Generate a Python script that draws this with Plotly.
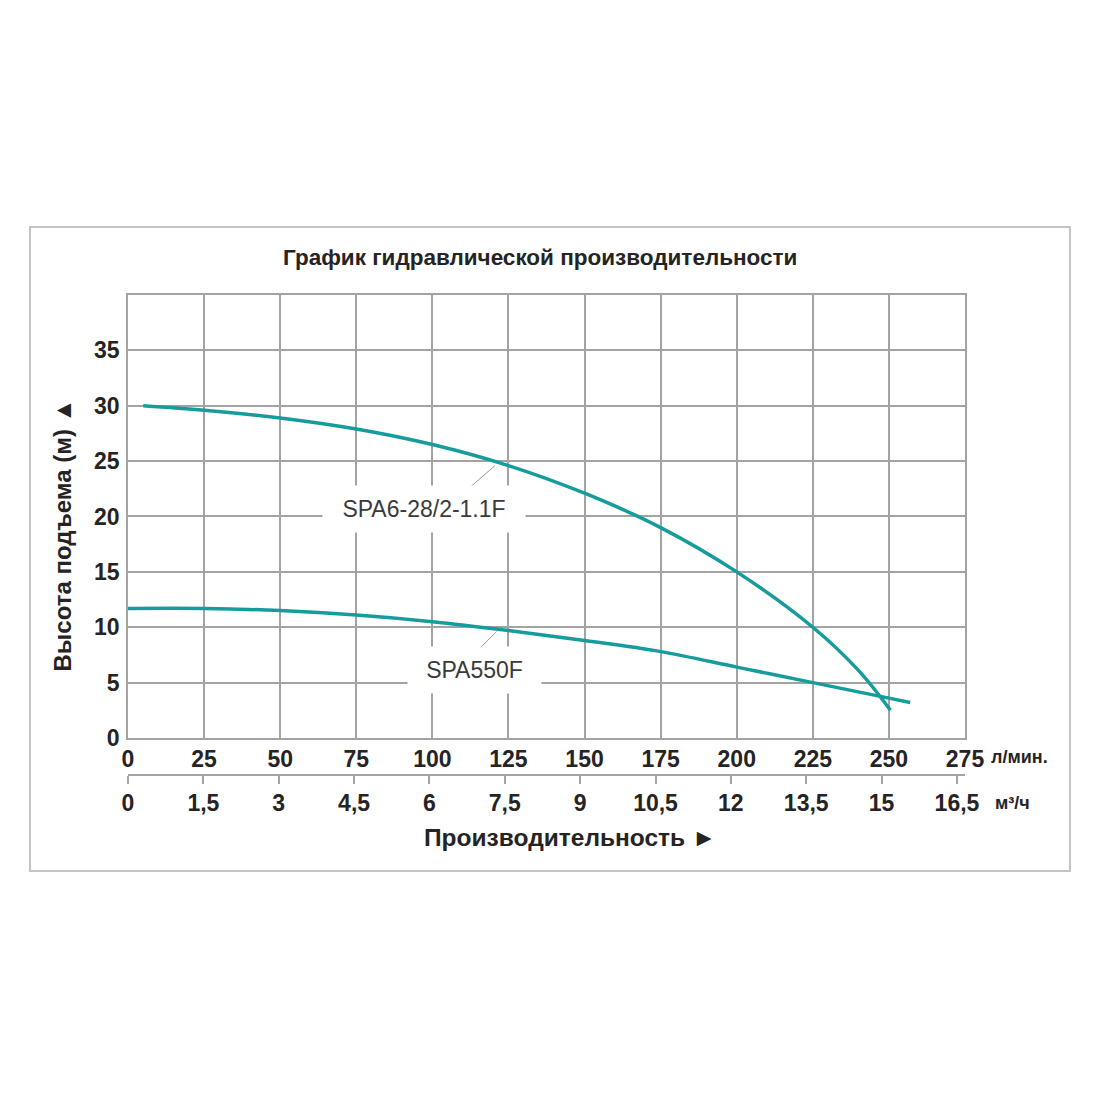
import plotly.graph_objects as go

# Performance curves (flow in l/min, head in m)
SPA6_Q = [5, 25, 50, 75, 100, 125, 150, 175, 200, 225, 240, 250.5]
SPA6_H = [30.0, 29.6, 28.9, 27.9, 26.5, 24.6, 22.1, 19.0, 15.0, 10.0, 6.1, 2.5]

SPA550_Q = [0, 25, 50, 75, 100, 125, 150, 175, 200, 225, 250, 257]
SPA550_H = [11.7, 11.7, 11.5, 11.1, 10.5, 9.7, 8.8, 7.8, 6.4, 5.0, 3.6, 3.2]

X_TICKS = list(range(0, 276, 25))
Y_TICKS = list(range(0, 36, 5))
M3_TICKS = [0, 1.5, 3, 4.5, 6, 7.5, 9, 10.5, 12, 13.5, 15, 16.5]
M3_LABELS = ["0", "1,5", "3", "4,5", "6", "7,5", "9", "10,5", "12", "13,5", "15", "16,5"]

TEAL = "#169c9c"
GRID = "#a3a3a3"
INK = "#262324"
FONT = "Liberation Sans"

fig = go.Figure()
fig.add_trace(go.Scatter(x=SPA6_Q, y=SPA6_H, mode="lines", line=dict(color=TEAL, width=3.5, shape="spline"),
                         name="SPA6-28/2-1.1F", hoverinfo="skip"))
fig.add_trace(go.Scatter(x=SPA550_Q, y=SPA550_H, mode="lines", line=dict(color=TEAL, width=3.5, shape="spline"),
                         name="SPA550F", hoverinfo="skip"))

tickfont = dict(family=FONT, size=23, color=INK, weight="bold")

fig.update_layout(
  width=1100, height=1100,
  margin=dict(l=120, r=143, t=287, b=208),
  paper_bgcolor="white", plot_bgcolor="white",
  showlegend=False,
  xaxis=dict(range=[0, 275], tickvals=X_TICKS, showgrid=True, gridcolor=GRID, gridwidth=1.5,
             showline=True, linecolor=GRID, linewidth=1.5, mirror=True, zeroline=False,
             ticks="", tickfont=tickfont, ticklabelstandoff=0),
  # lower axis in m3/h is slightly shorter than the l/min one in the original
  xaxis2=dict(overlaying="x", anchor="free", position=0.2066, range=[0, 16.66],
              tickvals=M3_TICKS, ticktext=M3_LABELS, showgrid=False, zeroline=False,
              showline=True, linecolor=GRID, linewidth=1.5, ticks="outside", ticklen=8,
              tickcolor=GRID, tickwidth=1.5, tickfont=tickfont, ticklabelstandoff=0),
  yaxis=dict(domain=[0.2678, 1], range=[0, 40], tickvals=Y_TICKS, showgrid=True, gridcolor=GRID,
             gridwidth=1.5, showline=True, linecolor=GRID, linewidth=1.5, mirror=True, zeroline=False,
             ticks="", tickfont=tickfont, ticklabelstandoff=2),
)
# make xaxis2 show up
fig.add_trace(go.Scatter(x=[None], y=[None], xaxis="x2", yaxis="y", showlegend=False, hoverinfo="skip"))

# grey frame around everything
fig.add_shape(type="rect", xref="paper", yref="paper", x0=-0.1171, x1=1.1254, y0=0.0479, y1=1.1124,
              line=dict(color="#c4c4c4", width=2), layer="below")

# leader lines for the curve labels
fig.add_shape(type="line", x0=111.4, y0=22.4, x1=120.6, y1=24.6, line=dict(color="#9a9a9a", width=1))
fig.add_shape(type="line", x0=112.6, y0=7.3, x1=121.1, y1=9.6, line=dict(color="#9a9a9a", width=1))

lab = dict(family=FONT, size=23, color="#3a3a3a")
fig.add_annotation(x=97.4, y=20.7, text="SPA6-28/2-1.1F", showarrow=False, font=lab,
                   bgcolor="white", width=182, borderpad=10)
fig.add_annotation(x=114, y=6.1, text="SPA550F", showarrow=False, font=lab,
                   bgcolor="white", width=113, borderpad=10)

def note(x, y, text, size, **kw):
  opts = dict(xref="paper", yref="paper", x=x, y=y, text=text, showarrow=False,
              xanchor="center", yanchor="middle",
              font=dict(family=FONT, size=size, color=INK, weight="bold"))
  opts.update(kw)
  fig.add_annotation(**opts)

note(0.492, 1.0625, "График гидравлической производительности", 22.5)
note(-0.0777, 0.604, "Высота подъема (м) ▲", 24, textangle=-90)
note(0.528, 0.1041, "Производительность ►", 24.5)
note(1.0287, 0.2364, "л/мин.", 18, xanchor="left")
note(1.0335, 0.1603, "м³/ч", 18, xanchor="left")

fig.write_html("out.html")
